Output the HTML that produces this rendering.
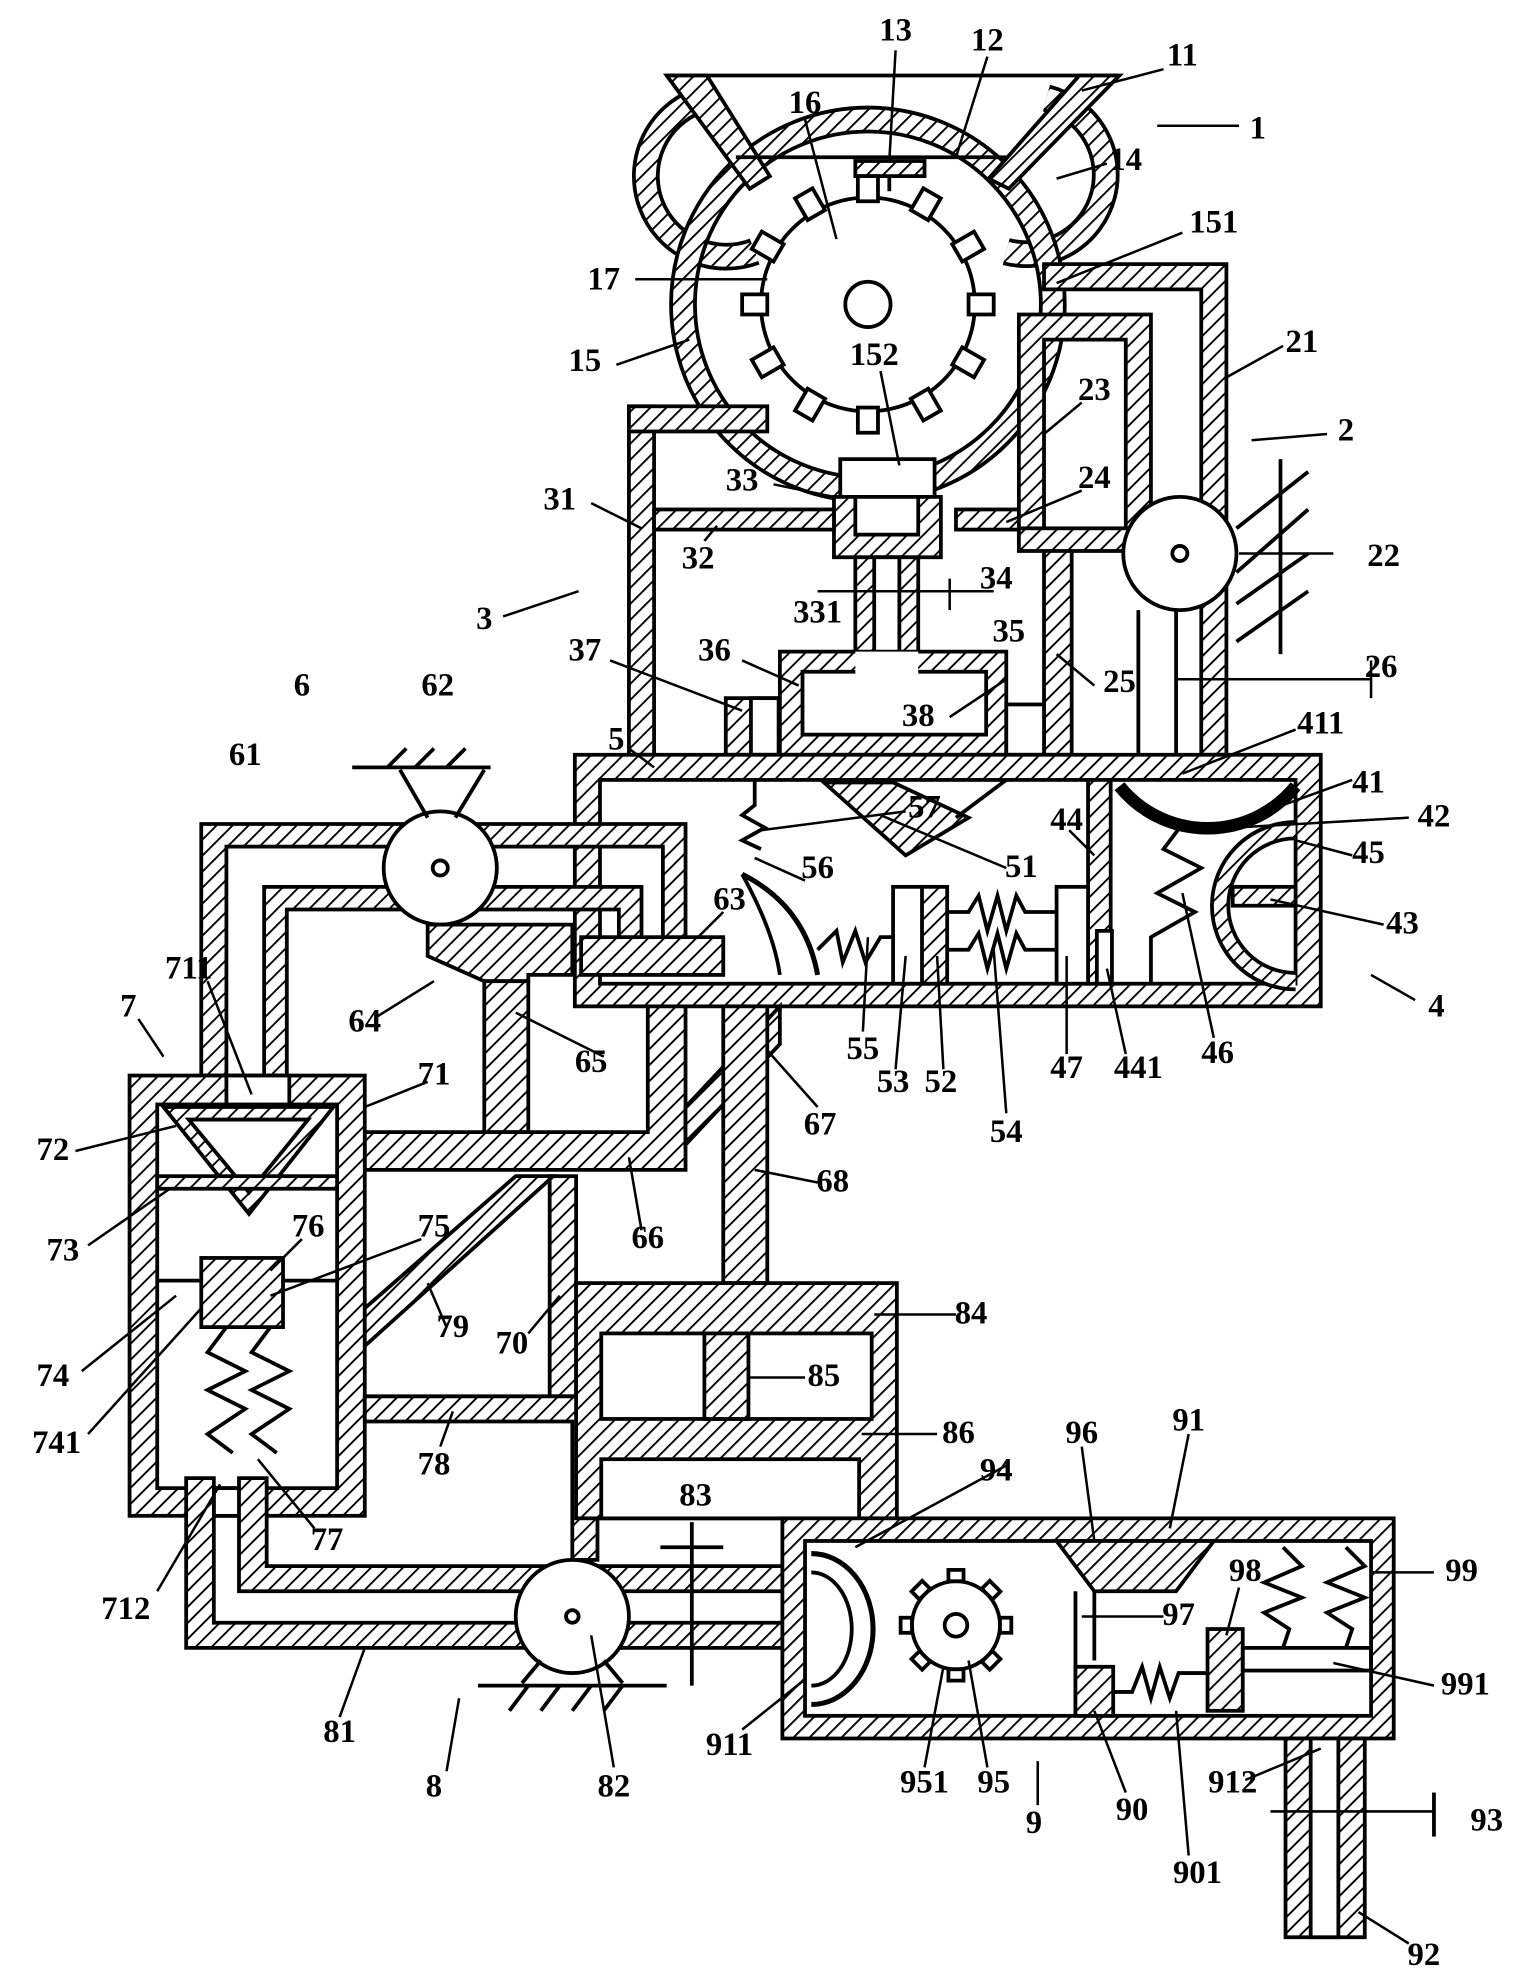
<!DOCTYPE html>
<html><head><meta charset="utf-8"><style>html,body{margin:0;padding:0;background:#fff}svg{display:block}</style></head>
<body>
<svg width="1522" height="1980" viewBox="0 0 1210 1574" preserveAspectRatio="none" xmlns="http://www.w3.org/2000/svg">
<defs>
<pattern id="h" patternUnits="userSpaceOnUse" width="9" height="9" patternTransform="rotate(45)">
<rect width="9" height="9" fill="#fff"/><line x1="0" y1="0" x2="0" y2="9" stroke="#000" stroke-width="3"/>
</pattern>
</defs>
<g stroke="#000" stroke-width="3" fill="none">
<!-- hopper -->
<line x1="530" y1="60" x2="890" y2="60"/>
<path d="M555,80 A60,60 0 0 0 600,200" stroke-width="22" stroke="#000"/>
<path d="M555,80 A60,60 0 0 0 600,200" stroke-width="16" stroke="url(#h)"/>
<path d="M832,78 A60,60 0 0 1 800,200" stroke-width="22" stroke="#000"/>
<path d="M832,78 A60,60 0 0 1 800,200" stroke-width="16" stroke="url(#h)"/>
<!-- crusher -->
<circle cx="690" cy="242" r="147" stroke-width="22"/>
<circle cx="690" cy="242" r="147" stroke-width="16" stroke="url(#h)"/>
<polygon points="530,60 562,60 612,140 596,150" fill="url(#h)"/>
<polygon points="858,60 890,60 802,150 786,142" fill="url(#h)"/>
<line x1="585" y1="125" x2="800" y2="125"/>
<rect x="680" y="128" width="55" height="12" fill="url(#h)"/>
<line x1="707" y1="140" x2="707" y2="152"/>
<circle cx="690" cy="242" r="85" fill="#fff"/>
<circle cx="690" cy="242" r="18"/>
<g fill="#fff">
<rect x="682" y="140" width="16" height="20"/><rect x="682" y="324" width="16" height="20"/>
<rect x="590" y="234" width="20" height="16"/><rect x="770" y="234" width="20" height="16"/>
<rect x="682" y="140" width="16" height="20" transform="rotate(30 690 242)"/><rect x="682" y="140" width="16" height="20" transform="rotate(60 690 242)"/>
<rect x="682" y="140" width="16" height="20" transform="rotate(120 690 242)"/><rect x="682" y="140" width="16" height="20" transform="rotate(150 690 242)"/>
<rect x="682" y="140" width="16" height="20" transform="rotate(210 690 242)"/><rect x="682" y="140" width="16" height="20" transform="rotate(240 690 242)"/>
<rect x="682" y="140" width="16" height="20" transform="rotate(300 690 242)"/><rect x="682" y="140" width="16" height="20" transform="rotate(330 690 242)"/>
</g>
<!-- 152/33/34 -->
<rect x="668" y="365" width="75" height="30" fill="#fff"/>
<rect x="663" y="395" width="85" height="48" fill="url(#h)"/>
<rect x="680" y="395" width="50" height="30" fill="#fff"/>
<rect x="680" y="443" width="50" height="95" fill="url(#h)"/>
<rect x="695" y="443" width="20" height="95" fill="#fff"/>
<!-- frame 3 -->
<rect x="500" y="323" width="20" height="277" fill="url(#h)"/>
<rect x="500" y="323" width="110" height="20" fill="url(#h)"/>
<rect x="520" y="405" width="143" height="16" fill="url(#h)"/>
<rect x="760" y="405" width="50" height="16" fill="url(#h)"/>
<rect x="830" y="430" width="22" height="170" fill="url(#h)"/>
<!-- pipe 2 -->
<polygon points="830,210 975,210 975,600 955,600 955,230 830,230" fill="url(#h)"/>
<polygon points="810,250 915,250 915,420 895,420 895,270 830,270 830,430 810,430" fill="url(#h)"/>
<rect x="810" y="420" width="105" height="18" fill="url(#h)"/>
<line x1="905" y1="485" x2="905" y2="600"/><line x1="935" y1="485" x2="935" y2="600"/>
<circle cx="938" cy="440" r="45" fill="#fff"/><circle cx="938" cy="440" r="6"/>
<line x1="1018" y1="365" x2="1018" y2="520"/>
<line x1="983" y1="420" x2="1040" y2="375"/><line x1="983" y1="455" x2="1040" y2="405"/><line x1="983" y1="480" x2="1040" y2="440"/><line x1="983" y1="510" x2="1040" y2="470"/>
<!-- pan 36 -->
<polygon points="620,518 800,518 800,600 620,600" fill="url(#h)"/>
<rect x="638" y="534" width="146" height="50" fill="#fff"/>
<rect x="680" y="518" width="50" height="20" fill="#fff" stroke="none"/>
<rect x="577" y="555" width="42" height="45" fill="url(#h)"/><rect x="597" y="555" width="22" height="45" fill="#fff"/>
<rect x="800" y="560" width="30" height="40" fill="#fff"/>
<!-- box 4/5 -->
<rect x="457" y="600" width="593" height="200" fill="url(#h)"/>
<rect x="477" y="620" width="553" height="162" fill="#fff"/>
<rect x="865" y="620" width="18" height="162" fill="url(#h)"/>
<rect x="872" y="740" width="12" height="42" fill="#fff"/>
<path d="M890,625 A90,90 0 0 0 1030,625" stroke-width="10" />
<path d="M1030,660 A60,60 0 0 0 1030,780" stroke-width="16"/>
<path d="M1030,660 A60,60 0 0 0 1030,780" stroke-width="10" stroke="url(#h)"/>
<rect x="980" y="705" width="50" height="15" fill="url(#h)"/>
<polyline points="940,655 925,675 955,690 920,710 950,725 915,745 915,782"/>
<polygon points="655,622 710,622 770,650 720,680" fill="url(#h)"/>
<line x1="760" y1="650" x2="800" y2="620"/>
<path d="M590,695 Q640,720 650,775" stroke-width="4"/>
<path d="M590,695 Q615,740 620,775"/>
<polyline points="600,620 600,640 590,648 608,658 590,668 605,675"/>
<polyline points="650,755 665,740 670,765 680,740 688,765 700,745 710,745"/>
<rect x="710" y="705" width="30" height="77" fill="#fff"/>
<rect x="733" y="705" width="20" height="77" fill="url(#h)"/>
<polyline points="753,725 770,725 778,712 785,740 793,712 800,740 808,712 815,725 840,725"/>
<polyline points="753,755 770,755 778,742 785,770 793,742 800,770 808,742 815,755 840,755"/>
<rect x="840" y="705" width="25" height="77" fill="#fff"/>
<rect x="462" y="745" width="113" height="30" fill="url(#h)"/>
<!-- pipe 61 / pump 62 -->
<polygon points="160,655 545,655 545,745 527,745 527,673 180,673 180,855 160,855" fill="url(#h)"/>
<polygon points="210,705 510,705 510,745 492,745 492,723 228,723 228,855 210,855" fill="url(#h)"/>
<circle cx="350" cy="690" r="45" fill="#fff"/><circle cx="350" cy="690" r="6"/>
<line x1="280" y1="610" x2="390" y2="610"/>
<line x1="308" y1="610" x2="323" y2="595"/><line x1="330" y1="610" x2="345" y2="595"/><line x1="355" y1="610" x2="370" y2="595"/>
<line x1="318" y1="612" x2="340" y2="650"/><line x1="385" y1="612" x2="362" y2="650"/>
<polygon points="340,735 455,735 455,775 420,775 420,780 385,780 340,760" fill="url(#h)"/>
<rect x="385" y="780" width="35" height="120" fill="url(#h)"/>
<!-- 66 / 67 / 68 -->
<polygon points="290,900 515,900 515,800 545,800 545,930 290,930" fill="url(#h)"/>
<polygon points="545,880 620,800 620,830 545,910" fill="url(#h)"/>
<rect x="575" y="800" width="35" height="220" fill="url(#h)"/>
<!-- box 7 -->
<rect x="103" y="855" width="187" height="350" fill="url(#h)"/>
<rect x="125" y="878" width="143" height="305" fill="#fff"/>
<rect x="180" y="855" width="50" height="23" fill="#fff"/>
<rect x="170" y="1183" width="30" height="22" fill="#fff"/>
<polygon points="130,880 265,880 198,965" fill="url(#h)"/><polygon points="150,890 245,890 198,948" fill="#fff"/>
<rect x="125" y="935" width="143" height="10" fill="url(#h)"/>
<line x1="125" y1="1018" x2="268" y2="1018"/>
<rect x="160" y="1000" width="65" height="55" fill="url(#h)"/>
<polyline points="180,1055 165,1075 195,1090 165,1105 195,1120 165,1140 185,1155"/>
<polyline points="215,1055 200,1075 230,1090 200,1105 230,1120 200,1140 220,1155"/>
<!-- 79 / 70 / 78 -->
<polygon points="290,1040 410,935 440,935 290,1070" fill="url(#h)"/>
<rect x="437" y="935" width="21" height="175" fill="url(#h)"/>
<polygon points="290,1110 475,1110 475,1240 455,1240 455,1130 290,1130" fill="url(#h)"/>
<!-- box 84 -->
<rect x="458" y="1020" width="255" height="187" fill="url(#h)"/>
<rect x="478" y="1060" width="215" height="68" fill="#fff"/>
<rect x="478" y="1160" width="205" height="47" fill="#fff"/>
<rect x="560" y="1060" width="35" height="68" fill="url(#h)"/>
<!-- pipe 81 / pump 82 -->
<polygon points="148,1175 170,1175 170,1290 622,1290 622,1310 148,1310" fill="url(#h)"/>
<polygon points="190,1175 212,1175 212,1245 622,1245 622,1265 190,1265" fill="url(#h)"/>
<circle cx="455" cy="1285" r="45" fill="#fff"/><circle cx="455" cy="1285" r="5"/>
<line x1="380" y1="1340" x2="530" y2="1340"/>
<line x1="420" y1="1340" x2="405" y2="1360"/><line x1="445" y1="1340" x2="430" y2="1360"/><line x1="470" y1="1340" x2="455" y2="1360"/><line x1="495" y1="1340" x2="480" y2="1360"/>
<line x1="430" y1="1320" x2="415" y2="1338"/><line x1="480" y1="1320" x2="495" y2="1338"/>
<line x1="550" y1="1210" x2="550" y2="1340"/><line x1="525" y1="1230" x2="575" y2="1230"/>
<!-- box 91 -->
<rect x="622" y="1207" width="486" height="175" fill="url(#h)"/>
<rect x="640" y="1225" width="450" height="139" fill="#fff"/>
<path d="M645,1235 A45,55 0 0 1 645,1355" stroke-width="4"/>
<path d="M645,1250 A30,42 0 0 1 645,1340"/>
<circle cx="760" cy="1292" r="35" fill="#fff"/><circle cx="760" cy="1292" r="9"/>
<g fill="#fff"><rect x="754" y="1248" width="12" height="9"/><rect x="754" y="1327" width="12" height="9"/><rect x="716" y="1286" width="9" height="12"/><rect x="795" y="1286" width="9" height="12"/>
<rect x="754" y="1248" width="12" height="9" transform="rotate(45 760 1292)"/><rect x="754" y="1248" width="12" height="9" transform="rotate(135 760 1292)"/><rect x="754" y="1248" width="12" height="9" transform="rotate(225 760 1292)"/><rect x="754" y="1248" width="12" height="9" transform="rotate(315 760 1292)"/></g>
<polygon points="840,1225 965,1225 935,1265 870,1265" fill="url(#h)"/>
<line x1="855" y1="1265" x2="855" y2="1364"/><line x1="870" y1="1265" x2="870" y2="1320"/>
<rect x="855" y="1325" width="30" height="39" fill="url(#h)"/>
<polyline points="885,1345 900,1345 908,1325 915,1350 922,1325 930,1350 937,1330 960,1330"/>
<rect x="960" y="1295" width="28" height="65" fill="url(#h)"/>
<rect x="988" y="1310" width="102" height="18"/>
<polyline points="1020,1230 1035,1245 1005,1258 1035,1270 1005,1282 1025,1295 1020,1310"/>
<polyline points="1070,1230 1085,1245 1055,1258 1085,1270 1055,1282 1075,1295 1070,1310"/>
<!-- outlet 92 -->
<rect x="1022" y="1382" width="63" height="158" fill="url(#h)"/>
<rect x="1042" y="1382" width="22" height="158" fill="#fff"/>
<line x1="1140" y1="1425" x2="1140" y2="1460"/>
<!-- leader lines -->
<g stroke-width="2">
<line x1="920" y1="100" x2="985" y2="100"/>
<line x1="985" y1="440" x2="1060" y2="440"/>
<line x1="935" y1="540" x2="1090" y2="540"/><line x1="1090" y1="525" x2="1090" y2="555"/>
<line x1="650" y1="470" x2="790" y2="470"/><line x1="755" y1="460" x2="755" y2="485"/>
<line x1="1010" y1="1440" x2="1140" y2="1440"/>
<line x1="800" y1="1165" x2="680" y2="1230"/>
<line x1="712" y1="40" x2="707" y2="128"/><line x1="785" y1="45" x2="760" y2="125"/><line x1="925" y1="55" x2="860" y2="72"/>
<line x1="880" y1="130" x2="840" y2="142"/><line x1="640" y1="95" x2="665" y2="190"/><line x1="940" y1="185" x2="840" y2="225"/>
<line x1="505" y1="222" x2="610" y2="222"/><line x1="1020" y1="275" x2="975" y2="300"/><line x1="490" y1="290" x2="548" y2="270"/>
<line x1="700" y1="295" x2="715" y2="370"/><line x1="860" y1="320" x2="830" y2="345"/><line x1="1055" y1="345" x2="995" y2="350"/>
<line x1="615" y1="385" x2="663" y2="395"/><line x1="860" y1="390" x2="800" y2="415"/><line x1="470" y1="400" x2="510" y2="420"/>
<line x1="560" y1="430" x2="570" y2="418"/><line x1="400" y1="490" x2="460" y2="470"/><line x1="590" y1="525" x2="635" y2="545"/>
<line x1="485" y1="525" x2="590" y2="565"/><line x1="870" y1="545" x2="840" y2="520"/><line x1="755" y1="570" x2="800" y2="540"/>
<line x1="500" y1="595" x2="520" y2="610"/><line x1="1030" y1="580" x2="940" y2="615"/><line x1="1075" y1="620" x2="1020" y2="640"/>
<line x1="1120" y1="650" x2="945" y2="660"/><line x1="850" y1="660" x2="870" y2="680"/><line x1="720" y1="645" x2="605" y2="660"/>
<line x1="800" y1="690" x2="700" y2="648"/><line x1="1075" y1="680" x2="1030" y2="668"/><line x1="640" y1="700" x2="600" y2="682"/>
<line x1="575" y1="725" x2="555" y2="745"/><line x1="1100" y1="735" x2="1010" y2="715"/><line x1="686" y1="820" x2="690" y2="745"/>
<line x1="712" y1="850" x2="720" y2="760"/><line x1="750" y1="850" x2="745" y2="760"/><line x1="848" y1="838" x2="848" y2="760"/>
<line x1="895" y1="838" x2="880" y2="770"/><line x1="965" y1="825" x2="940" y2="710"/><line x1="800" y1="885" x2="790" y2="755"/>
<line x1="1125" y1="795" x2="1090" y2="775"/><line x1="300" y1="808" x2="345" y2="780"/><line x1="480" y1="840" x2="410" y2="805"/>
<line x1="650" y1="880" x2="610" y2="835"/><line x1="165" y1="780" x2="200" y2="870"/><line x1="110" y1="810" x2="130" y2="840"/>
<line x1="340" y1="860" x2="290" y2="880"/><line x1="60" y1="915" x2="140" y2="895"/><line x1="650" y1="940" x2="600" y2="930"/>
<line x1="510" y1="978" x2="500" y2="920"/><line x1="70" y1="990" x2="135" y2="945"/><line x1="240" y1="985" x2="215" y2="1010"/>
<line x1="335" y1="985" x2="215" y2="1030"/><line x1="355" y1="1055" x2="340" y2="1020"/><line x1="420" y1="1060" x2="445" y2="1030"/>
<line x1="760" y1="1045" x2="695" y2="1045"/><line x1="65" y1="1090" x2="140" y2="1030"/><line x1="70" y1="1140" x2="160" y2="1040"/>
<line x1="640" y1="1095" x2="595" y2="1095"/><line x1="745" y1="1140" x2="685" y2="1140"/><line x1="350" y1="1150" x2="360" y2="1122"/>
<line x1="860" y1="1150" x2="870" y2="1225"/><line x1="945" y1="1140" x2="930" y2="1215"/><line x1="250" y1="1215" x2="205" y2="1160"/>
<line x1="985" y1="1262" x2="975" y2="1300"/><line x1="1140" y1="1250" x2="1090" y2="1250"/><line x1="925" y1="1285" x2="860" y2="1285"/>
<line x1="125" y1="1265" x2="175" y2="1180"/><line x1="1140" y1="1340" x2="1060" y2="1322"/><line x1="590" y1="1375" x2="640" y2="1335"/>
<line x1="270" y1="1365" x2="290" y2="1310"/><line x1="488" y1="1405" x2="470" y2="1300"/><line x1="355" y1="1408" x2="365" y2="1350"/>
<line x1="735" y1="1405" x2="750" y2="1325"/><line x1="785" y1="1405" x2="770" y2="1320"/><line x1="825" y1="1435" x2="825" y2="1400"/>
<line x1="895" y1="1425" x2="870" y2="1360"/><line x1="990" y1="1415" x2="1050" y2="1390"/><line x1="945" y1="1475" x2="935" y2="1360"/>
<line x1="1120" y1="1545" x2="1080" y2="1520"/>
</g>
</g>
<g font-family="Liberation Serif, serif" font-weight="bold" font-size="26" text-anchor="middle" fill="#000">
<text x="712" y="32">13</text><text x="785" y="40">12</text><text x="940" y="52">11</text><text x="1000" y="110">1</text><text x="895" y="135">14</text>
<text x="640" y="90">16</text><text x="965" y="185">151</text><text x="480" y="230">17</text><text x="1035" y="280">21</text><text x="465" y="295">15</text>
<text x="695" y="290">152</text><text x="870" y="318">23</text><text x="1070" y="350">2</text><text x="590" y="390">33</text><text x="870" y="388">24</text>
<text x="445" y="405">31</text><text x="555" y="452">32</text><text x="1100" y="450">22</text><text x="385" y="500">3</text><text x="650" y="495">331</text>
<text x="792" y="468">34</text><text x="802" y="510">35</text><text x="568" y="525">36</text><text x="465" y="525">37</text><text x="890" y="550">25</text>
<text x="1098" y="538">26</text><text x="730" y="577">38</text><text x="240" y="553">6</text><text x="348" y="553">62</text><text x="490" y="596">5</text>
<text x="1050" y="583">411</text><text x="195" y="608">61</text><text x="735" y="650">57</text><text x="1088" y="630">41</text><text x="1140" y="657">42</text>
<text x="848" y="660">44</text><text x="812" y="697">51</text><text x="1088" y="686">45</text><text x="650" y="698">56</text><text x="580" y="723">63</text>
<text x="1115" y="742">43</text><text x="686" y="842">55</text><text x="710" y="868">53</text><text x="748" y="868">52</text><text x="848" y="857">47</text>
<text x="905" y="857">441</text><text x="968" y="845">46</text><text x="800" y="908">54</text><text x="1142" y="808">4</text><text x="290" y="820">64</text>
<text x="470" y="852">65</text><text x="652" y="902">67</text><text x="150" y="778">711</text><text x="102" y="808">7</text><text x="345" y="862">71</text>
<text x="42" y="922">72</text><text x="662" y="947">68</text><text x="515" y="992">66</text><text x="50" y="1002">73</text><text x="245" y="983">76</text>
<text x="345" y="983">75</text><text x="360" y="1063">79</text><text x="407" y="1076">70</text><text x="772" y="1052">84</text><text x="42" y="1102">74</text>
<text x="45" y="1155">741</text><text x="655" y="1102">85</text><text x="762" y="1147">86</text><text x="345" y="1172">78</text><text x="860" y="1147">96</text>
<text x="945" y="1137">91</text><text x="792" y="1177">94</text><text x="553" y="1197">83</text><text x="260" y="1232">77</text><text x="990" y="1257">98</text>
<text x="1162" y="1257">99</text><text x="937" y="1292">97</text><text x="100" y="1287">712</text><text x="1165" y="1347">991</text><text x="580" y="1395">911</text>
<text x="270" y="1385">81</text><text x="488" y="1428">82</text><text x="345" y="1428">8</text><text x="735" y="1425">951</text><text x="790" y="1425">95</text>
<text x="822" y="1457">9</text><text x="900" y="1447">90</text><text x="980" y="1425">912</text><text x="1182" y="1455">93</text><text x="952" y="1497">901</text>
<text x="1132" y="1562">92</text>
</g>
</svg>
</body></html>
